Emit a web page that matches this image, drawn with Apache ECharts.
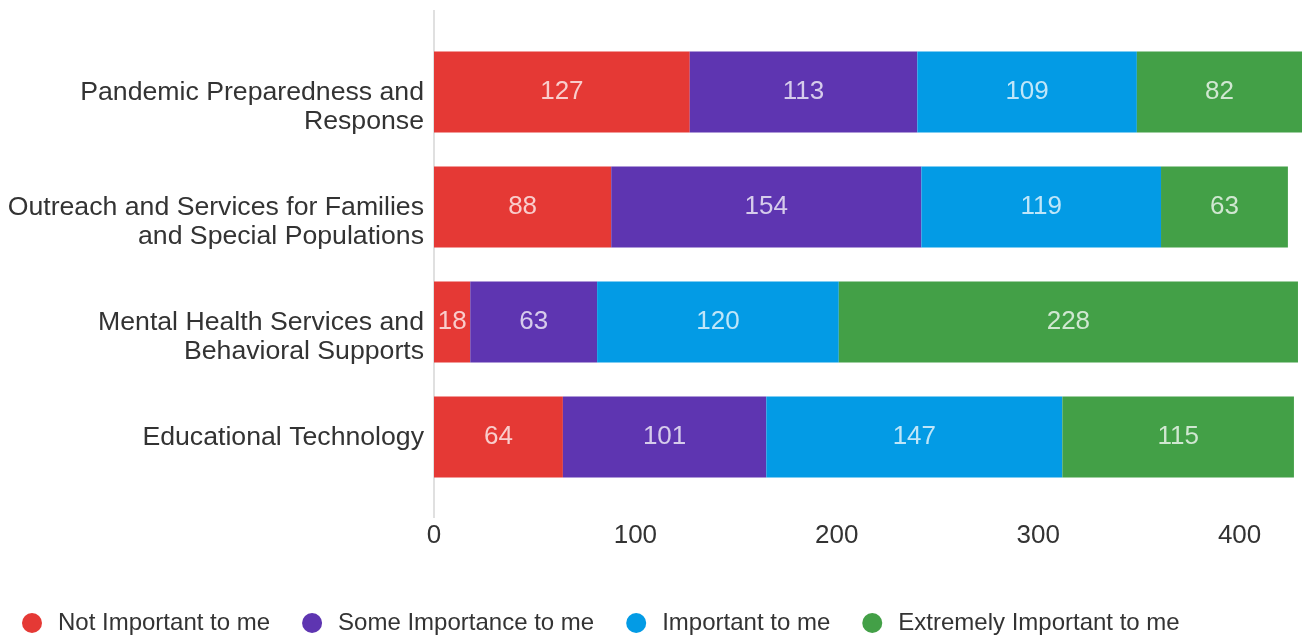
<!DOCTYPE html>
<html>
<head>
<meta charset="utf-8">
<script src="https://cdn.jsdelivr.net/npm/echarts@6/dist/echarts.min.js"></script>
<style>
html,body{margin:0;padding:0;background:#fff;}
#chart{width:1302px;height:637px;}
</style>
</head>
<body>
<div id="chart"></div>
<script>
const categories = [
  "Pandemic Preparedness and\nResponse",
  "Outreach and Services for Families\nand Special Populations",
  "Mental Health Services and\nBehavioral Supports",
  "Educational Technology"
];
const seriesNames = ["Not Important to me", "Some Importance to me", "Important to me", "Extremely Important to me"];
const notImportant = [127, 88, 18, 64];
const someImportance = [113, 154, 63, 101];
const important = [109, 119, 120, 147];
const extremelyImportant = [82, 63, 228, 115];
const xTicks = [0, 100, 200, 300, 400];

const colors = ["#e53935", "#5e35b1", "#039be5", "#43a047"];
const values = [notImportant, someImportance, important, extremelyImportant];
const FONT = "'Liberation Sans', Arial, sans-serif";

const chart = echarts.init(document.getElementById('chart'), null, {renderer: 'canvas'});
chart.setOption({
  animation: false,
  textStyle: {fontFamily: FONT},
  grid: {left: 434, top: 34.5, width: 871, height: 460, containLabel: false},
  xAxis: {
    type: 'value', min: 0, max: 'dataMax', interval: 100,
    axisLine: {show: false}, axisTick: {show: false}, splitLine: {show: false},
    axisLabel: {
      showMaxLabel: false, fontSize: 26, color: '#333', margin: 28, fontFamily: FONT,
      formatter: v => xTicks.includes(v) ? String(v) : ''
    }
  },
  yAxis: {
    type: 'category', inverse: true, data: categories,
    axisLine: {show: false}, axisTick: {show: false},
    axisLabel: {
      margin: 10, color: '#333', fontFamily: FONT, verticalAlign: 'top', align: 'right',
      formatter: function (v) {
        const parts = v.split('\n');
        return parts.map((p, i) => (i === 0 ? '{a|' : '{b|') + p + '}').join('\n');
      },
      rich: {
        a: {fontSize: 26.67, lineHeight: 2, color: '#333', fontFamily: FONT, align: 'right'},
        b: {fontSize: 26.67, lineHeight: 55, color: '#333', fontFamily: FONT, align: 'right'}
      }
    }
  },
  legend: {
    left: 17, top: 606, itemWidth: 42, itemHeight: 20, itemGap: 32, icon: 'circle',
    textStyle: {fontSize: 24, color: '#333', fontFamily: FONT},
    data: seriesNames
  },
  graphic: [{
    type: 'line', silent: true,
    shape: {x1: 434, y1: 10, x2: 434, y2: 518},
    style: {stroke: '#e0e0e0', lineWidth: 2}
  }],
  series: seriesNames.map((name, i) => ({
    name: name, type: 'bar', stack: 'total', barWidth: 81,
    itemStyle: {color: colors[i]},
    label: {show: true, position: 'inside', color: 'rgba(255,255,255,0.75)', fontSize: 26, fontFamily: FONT},
    data: values[i]
  }))
});
</script>
</body>
</html>
